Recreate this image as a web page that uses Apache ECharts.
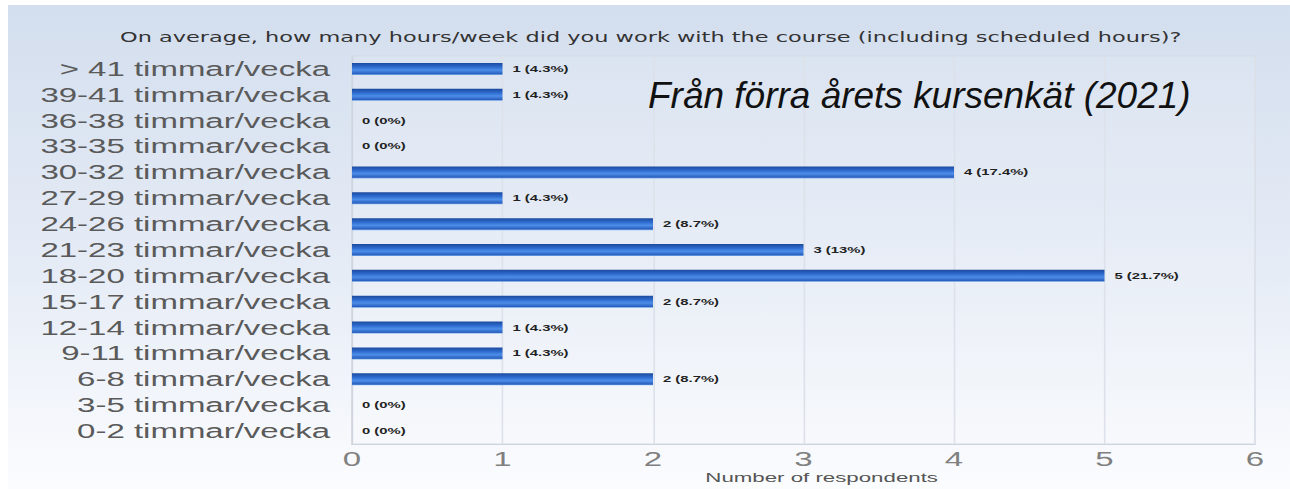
<!DOCTYPE html>
<html><head><meta charset="utf-8">
<script src="https://cdn.jsdelivr.net/npm/echarts@6/dist/echarts.min.js"></script>
<style>
html,body{margin:0;padding:0;background:#fff;overflow:hidden}
#wrap{width:1290px;height:489px;position:relative;overflow:hidden;background:linear-gradient(to right,#fff 0,#fff 8px,transparent 8px),linear-gradient(to bottom,#fff 0,#fff 5px,#d3deee 5px,#e6ecf6 55%,#fbfcfe 100%)}
#c{width:784px;height:489px;transform:scaleX(1.65);transform-origin:0 0;position:absolute;left:0;top:0}
</style>
</head><body><div id="wrap"><div id="c"></div></div>
<script>
const categories = ['0-2 timmar/vecka','3-5 timmar/vecka','6-8 timmar/vecka','9-11 timmar/vecka','12-14 timmar/vecka','15-17 timmar/vecka','18-20 timmar/vecka','21-23 timmar/vecka','24-26 timmar/vecka','27-29 timmar/vecka','30-32 timmar/vecka','33-35 timmar/vecka','36-38 timmar/vecka','39-41 timmar/vecka','> 41 timmar/vecka'];
const counts = [0,0,2,1,1,2,5,3,2,1,4,0,0,1,1];
const percents = ['0%','0%','8.7%','4.3%','4.3%','8.7%','21.7%','13%','8.7%','4.3%','17.4%','0%','0%','4.3%','4.3%'];
const xTicks = [0,1,2,3,4,5,6];
const title = 'On average, how many hours/week did you work with the course (including scheduled hours)?';
const note = 'Från förra årets kursenkät (2021)';

const S = 1.65; // horizontal stretch of the original chart image
const W = 784;
const chart = echarts.init(document.getElementById('c'), null, {renderer:'svg'});
chart.setOption({
  animation:false,
  graphic:[
    {type:'rect', z:-10, shape:{x:8/S,y:5,width:W,height:484},
     style:{fill:new echarts.graphic.LinearGradient(0,0,0,1,[{offset:0,color:'#d3deee'},{offset:0.55,color:'#e6ecf6'},{offset:1,color:'#fbfcfe'}])}},
    {type:'text', x:648/S, y:95, scaleX:1/S, z:10,
     style:{text:note, font:'italic 37px "Liberation Sans", Arial, sans-serif', fill:'#111', verticalAlign:'middle'}}
  ],
  title:{text:title, left:120/S, top:30, padding:0,
    textStyle:{fontFamily:'"DejaVu Sans", Verdana, sans-serif', fontSize:13.6, fontWeight:'normal', color:'#333'}},
  grid:{left:352/S, right:W-1255/S, top:56, bottom:45, outerBoundsMode:'none', containLabel:false,
    show:true, backgroundColor:'rgba(255,255,255,0.12)', borderColor:'#d6dbe4', borderWidth:1},
  xAxis:{type:'value', min:0, max:6, interval:1,
    name:'Number of respondents', nameLocation:'middle', nameGap:26, nameMoveOverlap:false,
    nameTextStyle:{fontFamily:'"Liberation Sans", Arial, sans-serif', fontSize:13.5, color:'#555', padding:[0,0,0,22]},
    axisLine:{show:true, lineStyle:{color:'#cfd5df'}}, axisTick:{show:false},
    axisLabel:{margin:5, fontFamily:'"Liberation Sans", Arial, sans-serif', fontSize:20, color:'#808080',
      formatter:v=>xTicks.includes(v)?String(v):''},
    splitLine:{show:true, lineStyle:{color:'#dde2ea', width:1}}},
  yAxis:{type:'category', data:categories,
    axisLine:{show:true, lineStyle:{color:'#cfd5df'}}, axisTick:{show:false},
    axisLabel:{interval:0, margin:22/S, fontFamily:'"Liberation Sans", Arial, sans-serif', fontSize:20, color:'#5a5a5a'}},
  series:[{type:'bar', data:counts, barWidth:12,
    itemStyle:{color:new echarts.graphic.LinearGradient(0,0,0,1,[
      {offset:0,color:'#1b4a9e'},{offset:0.35,color:'#2f6cd0'},{offset:0.6,color:'#4d8ee8'},{offset:0.9,color:'#2a5fbf'},{offset:1,color:'#7fb3ee'}])},
    label:{show:true, position:'right', distance:10/S,
      fontFamily:'"Liberation Sans", Arial, sans-serif', fontSize:9, fontWeight:'bold', color:'#222',
      formatter:p=>counts[p.dataIndex]+' ('+percents[p.dataIndex]+')'}
  }]
});
</script></body></html>
